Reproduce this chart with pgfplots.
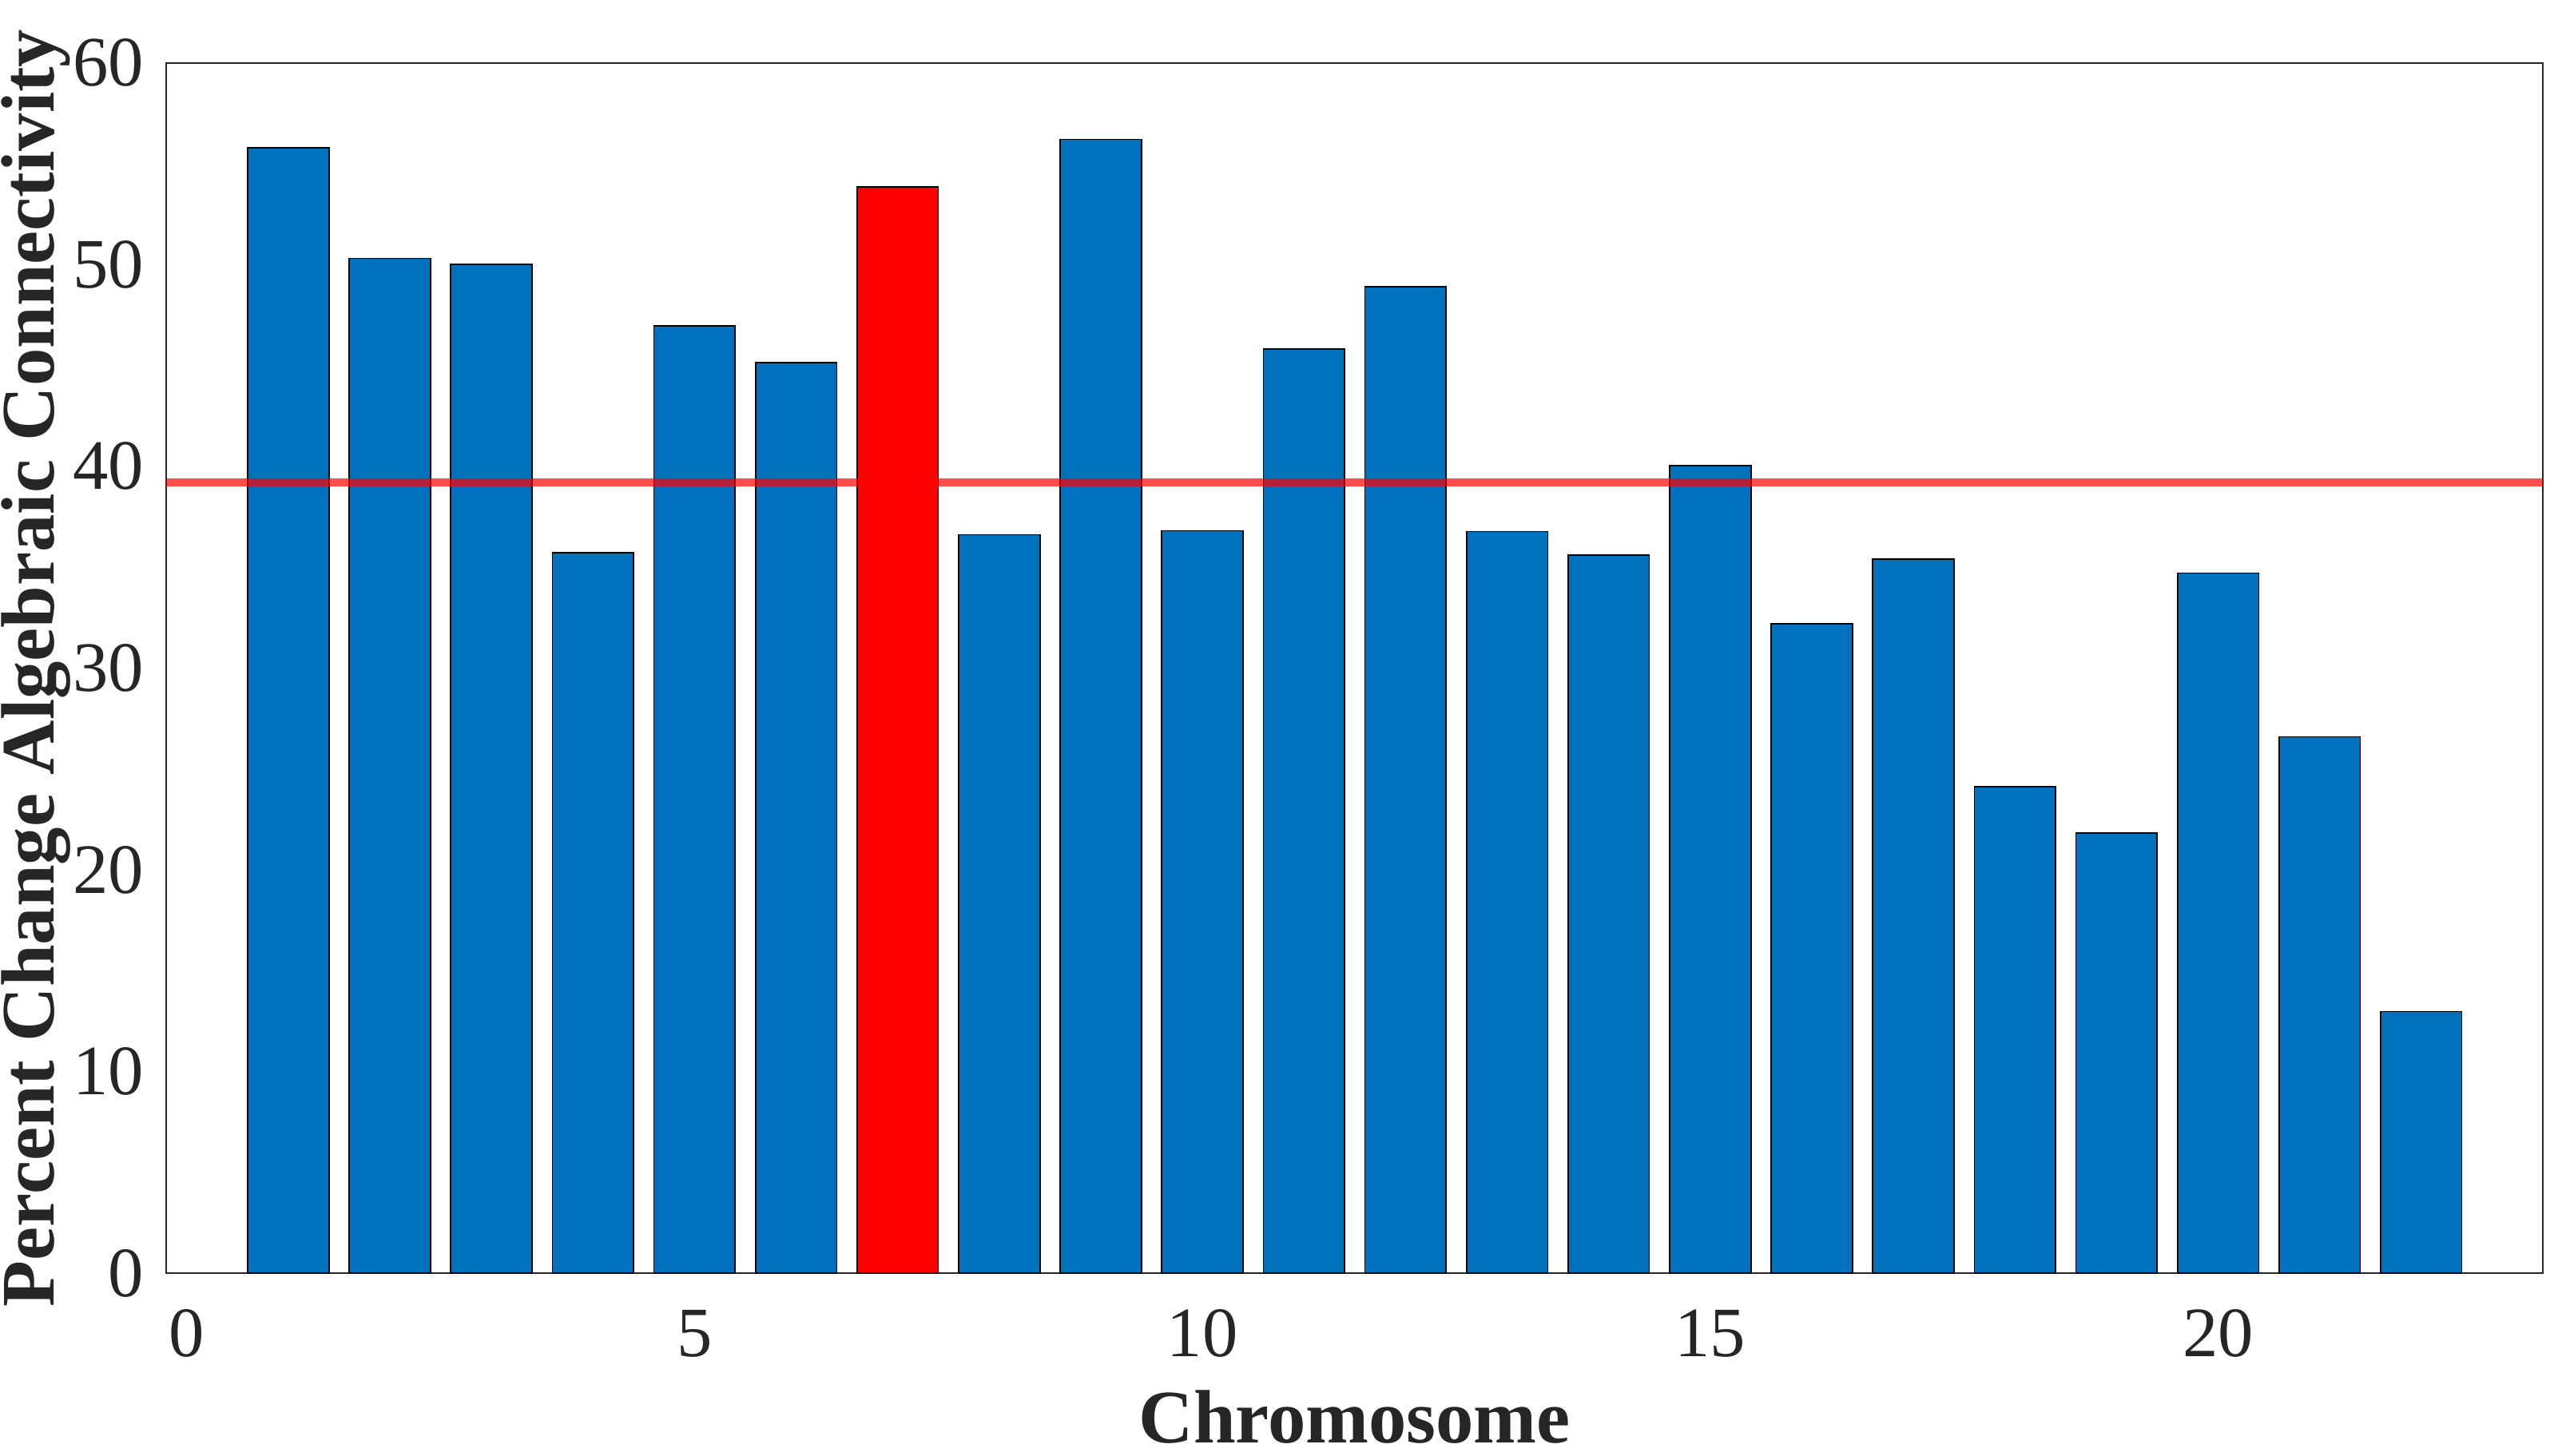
\documentclass[border=0pt]{standalone}
\usepackage{pgfplots}
\pgfplotsset{compat=1.18}
\usepackage{fontspec}
\setmainfont{Liberation Serif}
\definecolor{barblue}{RGB}{0,114,189}
\definecolor{axgray}{RGB}{38,38,38}
\begin{document}
\begin{tikzpicture}
\begin{axis}[
    scale only axis,
    width=446.25pt, height=227.34pt,
    xmin=-0.2, xmax=23.2,
    ymin=0, ymax=60,
    xtick={0,5,10,15,20},
    ytick={0,10,20,30,40,50,60},
    major tick length=0pt,
    axis line style={axgray, line width=0.3pt},
    /pgf/number format/assume math mode=true,
    tick label style={font=\fontsize{13.3}{13.3}\selectfont, text=axgray},
    xticklabel style={anchor=base, inner sep=0pt, yshift=-15.7pt},
    yticklabel style={anchor=east, inner sep=0pt, xshift=-4pt},
    label style={font=\fontsize{14.2}{14.2}\selectfont\bfseries, text=axgray},
    xlabel={Chromosome},
    ylabel={Percent Change Algebraic Connectivity},
    xlabel style={at={(axis description cs:0.5,-0.1403)}, anchor=base, inner sep=0pt},
    ylabel style={at={(axis description cs:-0.0472,0.5)}, anchor=base, rotate=0, inner sep=0pt},
]
% blue bars
\addplot[ybar, bar width=0.8, fill=barblue, draw=black, line width=0.25pt] coordinates {
(1,55.80) (2,50.30) (3,50.02) (4,35.72) (5,46.95) (6,45.13)
(8,36.61) (9,56.20) (10,36.81) (11,45.82) (12,48.89) (13,36.77)
(14,35.60) (15,40.04) (16,32.20) (17,35.39) (18,24.12) (19,21.82)
(20,34.71) (21,26.59) (22,12.97)
};
% highlighted chromosome
\addplot[ybar, bar width=0.8, fill=red, draw=black, line width=0.25pt] coordinates {
(7,53.86)
};
% mean line
\addplot[red, opacity=0.7, line width=1.5pt] coordinates {(-0.2,39.19) (23.2,39.19)};
\end{axis}
\pgfresetboundingbox
\path[use as bounding box] ([shift={(-31.25pt,-34.3pt)}]current axis.south west) rectangle ([shift={(3.55pt,11.8pt)}]current axis.north east);
\end{tikzpicture}
\end{document}
